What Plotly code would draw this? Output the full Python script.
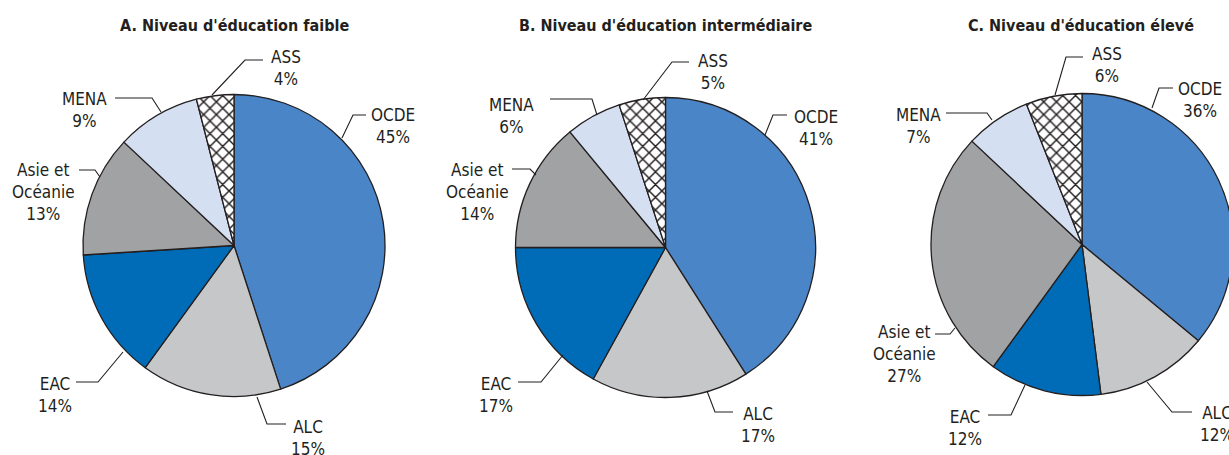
import plotly.graph_objects as go

# ---------------- data ----------------
regions = ["OCDE", "ALC", "EAC", "Asie et Océanie", "MENA", "ASS"]
region_labels = ["OCDE", "ALC", "EAC", "Asie et<br>Océanie", "MENA", "ASS"]
low_edu = [45, 15, 14, 13, 9, 4]
mid_edu = [41, 17, 17, 14, 6, 5]
high_edu = [36, 12, 12, 27, 7, 6]
titles = ["A. Niveau d'éducation faible",
          "B. Niveau d'éducation intermédiaire",
          "C. Niveau d'éducation élevé"]
series = [low_edu, mid_edu, high_edu]

# ---------------- style / layout ----------------
W, H = 1240, 455          # page is viewed in a 1229 px window; the right pie is cut off as in the source
colors = ["#4a86c7", "#c6c7c9", "#006cb7", "#a1a2a4", "#d4dff1", "#ffffff"]
patterns = ["", "", "", "", "", "x"]
ink = "#231f20"
FONT = "DejaVu Sans Condensed, Liberation Sans, sans-serif"

# pie boxes in pixels: (left, top, right, bottom)
pie_boxes = [(83, 94.5, 385, 396.5), (515.5, 97.5, 815.5, 397.5), (931, 93.5, 1233, 395.5)]
title_pos = [(234, 25), (665.5, 25), (1081, 25)]

# label layout per pie (order of regions): text centre of first line, leader polyline
label_layout = [
    [((393, 115), [(342, 138), (353, 115), (366, 115)]),
     ((308, 427), [(257, 397), (267, 424), (286, 424)]),
     ((55, 384), [(76, 382), (98, 382), (123, 352)]),
     ((43, 169.5), [(79, 170), (95, 170), (100, 177)]),
     ((84, 99), [(115, 98), (152, 98), (161, 112)]),
     ((286, 57), [(212, 95), (245, 60), (263, 60)])],
    [((815.5, 117), [(765, 135), (773, 115), (787, 115)]),
     ((757.5, 414), [(707, 391), (715, 412), (733, 412)]),
     ((496, 384), [(518, 382), (541, 382), (563, 355)]),
     ((477, 169.5), [(512, 169), (530, 169), (536, 175)]),
     ((511, 104.5), [(550, 99), (592, 99), (597, 115)]),
     ((712.5, 61), [(643, 100), (672, 62), (689, 62)])],
    [((1200, 88.5), [(1152, 108), (1159, 88), (1173, 88)]),
     ((1217, 413), [(1147, 382), (1172, 412), (1192, 412)]),
     ((965, 417), [(988, 415), (1011, 415), (1025, 385)]),
     ((904, 332), [(935, 334), (950, 334), (955, 328)]),
     ((918, 115), [(946, 113), (987, 113), (992, 120)]),
     ((1107, 54.5), [(1055, 95), (1066, 57), (1083, 57)])],
]
LINE_H = 22


def px(x):
    return x / W


def py(y):
    return 1 - y / H


fig = go.Figure()
annotations = []
shapes = []

for i, vals in enumerate(series):
    l, t, r, b = pie_boxes[i]
    fig.add_trace(go.Pie(
        labels=regions, values=vals, sort=False, direction="clockwise", rotation=0,
        textinfo="none", hoverinfo="label+percent", showlegend=False,
        domain=dict(x=[px(l), px(r)], y=[py(b), py(t)]),
        marker=dict(colors=colors, line=dict(color=ink, width=1.3),
                    pattern=dict(shape=patterns, fgcolor=ink, bgcolor="#ffffff",
                                 size=9, solidity=0.3)),
    ))
    tx, ty = title_pos[i]
    annotations.append(dict(text="<b>" + titles[i] + "</b>", x=px(tx), y=py(ty),
                            xref="paper", yref="paper", showarrow=False,
                            xanchor="center", yanchor="middle",
                            font=dict(family=FONT, size=16, color=ink)))
    for j, (lab, v) in enumerate(zip(region_labels, vals)):
        (cx, cy), pts = label_layout[i][j]
        nlines = lab.count("<br>") + 2
        mid_y = cy + (nlines - 1) * LINE_H / 2
        annotations.append(dict(text=f"{lab}<br>{v}%", x=px(cx), y=py(mid_y),
                                xref="paper", yref="paper", showarrow=False,
                                xanchor="center", yanchor="middle", align="center",
                                font=dict(family=FONT, size=17, color=ink)))
        path = "M " + " L ".join(f"{px(x):.5f},{py(y):.5f}" for x, y in pts)
        shapes.append(dict(type="path", path=path, xref="paper", yref="paper",
                           line=dict(color=ink, width=1.1)))

fig.update_layout(width=W, height=H, margin=dict(l=0, r=0, t=0, b=0),
                  paper_bgcolor="white", plot_bgcolor="white",
                  annotations=annotations, shapes=shapes,
                  font=dict(family=FONT, color=ink))

page_fix = ("document.documentElement.style.overflow='hidden';"
            "document.body.style.overflow='hidden';"
            "document.body.style.margin='0';")
fig.write_html("out.html", post_script=page_fix, config={"displayModeBar": False})
